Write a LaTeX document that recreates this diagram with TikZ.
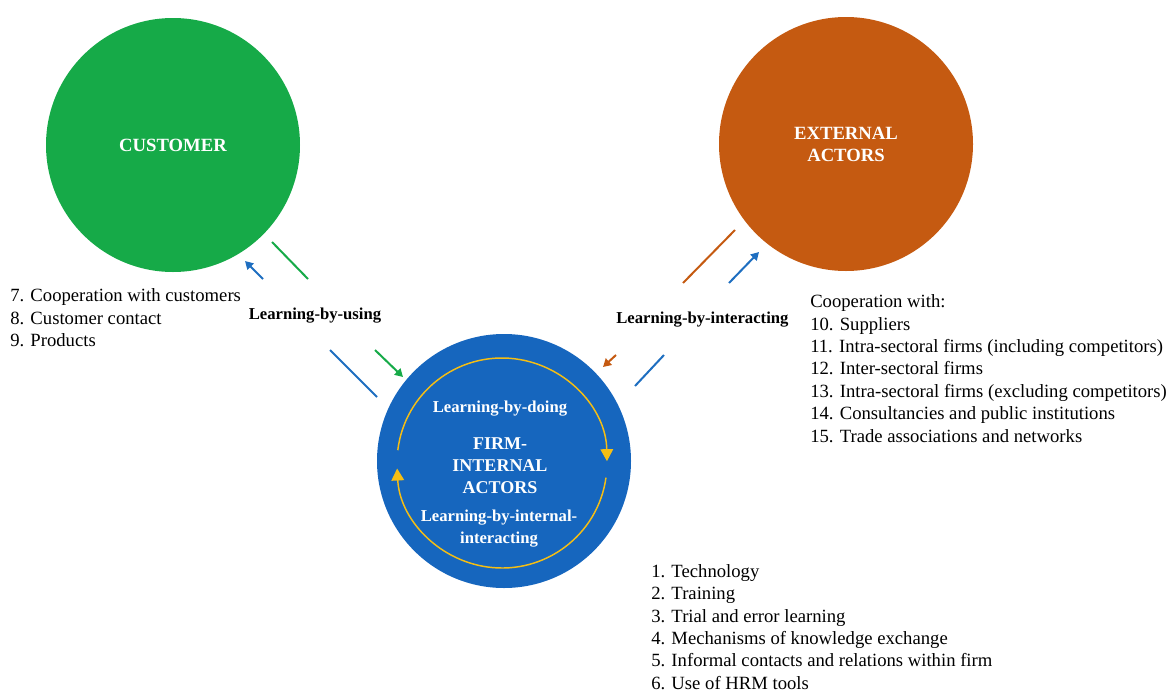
\documentclass[tikz,border=0pt]{standalone}
\usepackage{fontspec}
\setmainfont{LiberationSerif}[Extension=.ttf,UprightFont=*-Regular,BoldFont=*-Bold,ItalicFont=*-Italic,BoldItalicFont=*-BoldItalic]
\usetikzlibrary{arrows.meta}
\definecolor{custgreen}{RGB}{22,170,72}
\definecolor{extorange}{RGB}{197,90,17}
\definecolor{firmblue}{RGB}{22,102,190}
\definecolor{arrowblue}{RGB}{30,110,192}
\definecolor{ringgold}{RGB}{245,190,20}

\begin{document}
\begin{tikzpicture}[x=0.75pt,y=0.75pt,yscale=-1,xscale=1,
	actor/.style={circle,inner sep=0pt,minimum size=190.5pt,text=white,align=center,font=\fontsize{14}{16.5}\selectfont\bfseries},
	flow/.style={line width=1.5pt},
	flowtip/.style={line width=1.5pt,-{Triangle[width=6.5pt,length=6pt]}},
	ring/.style={ringgold,line width=1.1pt,-{Triangle[width=9.5pt,length=9pt]}},
	whitelabel/.style={text=white,inner sep=0pt,align=center,font=\fontsize{12.5}{16.5}\selectfont\bfseries},
	flowlabel/.style={inner sep=0pt,font=\fontsize{12.5}{15}\selectfont\bfseries},
	listtext/.style={anchor=west,inner sep=0pt,align=left,font=\fontsize{14}{16.8}\selectfont}]
	\path[use as bounding box] (0,0) rectangle (1168,693);

	% Text Node
	\node[actor,fill=custgreen] (customer) at (173,145) {CUSTOMER};
	% Text Node
	\node[actor,fill=extorange] (external) at (846,144) {EXTERNAL\\ACTORS};
	% Text Node
	\node[actor,fill=firmblue] (firm) at (504,461) {};
	\node[whitelabel,font=\fontsize{13.5}{16.5}\selectfont\bfseries] (firmname) at (500,466) {FIRM-\\INTERNAL\\ACTORS};
	\node[whitelabel] (doing) at (500,409) {Learning-by-doing};
	\node[whitelabel] (internal) at (499,529) {Learning-by-internal-\\interacting};

	% ring arrows inside the firm circle
	\coordinate (ringc) at (502,463);
	\draw[ring] ([shift={(187:105)}]ringc) arc[start angle=187,end angle=359,radius=105];
	\draw[ring] ([shift={(8:105)}]ringc) arc[start angle=8,end angle=177,radius=105];

	% Text Node
	\node[flowlabel] (using) at (315,316) {Learning-by-using};
	% Text Node
	\node[flowlabel,anchor=west] (interacting) at (616,320) {Learning-by-interacting};

	% Text Node
	\node[listtext] (custlist) at (10,318) {7. Cooperation with customers\\8. Customer contact\\9. Products};
	% Text Node
	\node[listtext] (extlist) at (810,368.5) {Cooperation with:\\10. Suppliers\\11. Intra-sectoral firms (including competitors)\\12. Inter-sectoral firms\\13. Intra-sectoral firms (excluding competitors)\\14. Consultancies and public institutions\\15. Trade associations and networks};
	% Text Node
	\node[listtext] (firmlist) at (651,627) {1. Technology\\2. Training\\3. Trial and error learning\\4. Mechanisms of knowledge exchange\\5. Informal contacts and relations within firm\\6. Use of HRM tools};

	% Connection
	\coordinate (bu1) at (377,397);
	\coordinate (bu2) at (330,350);
	\coordinate (bu3) at (263,279);
	\coordinate (bu4) at (245,261);
	\draw[flow,arrowblue] (bu1) -- (bu2);
	\draw[flowtip,arrowblue] (bu3) -- (bu4);
	% Connection
	\coordinate (gu1) at (272,242);
	\coordinate (gu2) at (308,279);
	\coordinate (gu3) at (375,350);
	\coordinate (gu4) at (403,377);
	\draw[flow,custgreen] (gu1) -- (gu2);
	\draw[flowtip,custgreen] (gu3) -- (gu4);
	% Connection
	\coordinate (eo1) at (735,230);
	\coordinate (eo2) at (683,283);
	\coordinate (eo3) at (616,355);
	\coordinate (eo4) at (603,367);
	\draw[flow,extorange] (eo1) -- (eo2);
	\draw[flowtip,extorange] (eo3) -- (eo4);
	% Connection
	\coordinate (bi1) at (635,386);
	\coordinate (bi2) at (664,355);
	\coordinate (bi3) at (729,283);
	\coordinate (bi4) at (759,252);
	\draw[flow,arrowblue] (bi1) -- (bi2);
	\draw[flowtip,arrowblue] (bi3) -- (bi4);

\end{tikzpicture}
\end{document}
